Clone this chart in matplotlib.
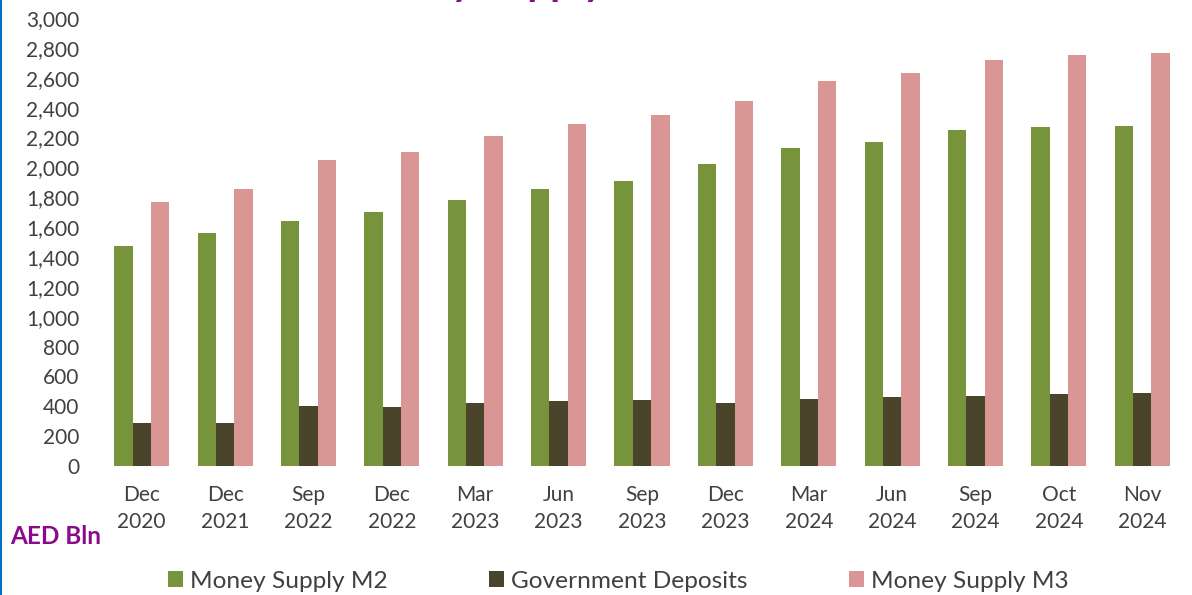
import matplotlib
matplotlib.use("Agg")
import matplotlib.pyplot as plt
import numpy as np
from matplotlib.lines import Line2D
from matplotlib.patches import Patch

plt.rcParams['font.family'] = ['Lato', 'DejaVu Sans']

categories = ["Dec\n2020", "Dec\n2021", "Sep\n2022", "Dec\n2022", "Mar\n2023", "Jun\n2023",
              "Sep\n2023", "Dec\n2023", "Mar\n2024", "Jun\n2024", "Sep\n2024", "Oct\n2024", "Nov\n2024"]
m2 = [1476, 1559, 1642, 1700, 1783, 1857, 1909, 2023, 2132, 2168, 2250, 2268, 2277]
gov = [286, 289, 402, 398, 420, 438, 442, 420, 447, 462, 471, 483, 489]
m3 = [1765, 1852, 2050, 2105, 2210, 2293, 2351, 2442, 2581, 2630, 2717, 2755, 2767]
series_names = ["Money Supply M2", "Government Deposits", "Money Supply M3"]
colors = ["#77933C", "#4A452A", "#D99694"]
yticks = list(range(0, 3001, 200))

W, H = 1192, 595
fig = plt.figure(figsize=(W / 100, H / 100), dpi=100)
ax = fig.add_axes([100 / W, 1 - 466 / H, 1084 / W, 448 / H])

x = np.arange(len(categories))
bw = 0.22
for i, (vals, c) in enumerate(zip([m2, gov, m3], colors)):
    ax.bar(x + (i - 1) * bw, vals, width=bw, color=c, edgecolor='none')

ax.set_xlim(-0.5, len(categories) - 0.5)
ax.set_ylim(0, 3000)
ax.set_yticks(yticks)
ax.set_yticklabels([f"{v:,}" for v in yticks])
ax.set_xticks(x)
ax.set_xticklabels(categories, linespacing=1.4)
for s in ax.spines.values():
    s.set_visible(False)
ax.tick_params(axis='both', length=0, labelsize=15, colors='#404040')
ax.tick_params(axis='y', pad=15)
ax.tick_params(axis='x', pad=14)

# title (mostly clipped at top, as in the reference)
fig.text(346 / W, 1 + 5 / H, "Money Supply", fontsize=29, fontweight='bold',
         color='#8B0A8B', ha='left', va='baseline')

fig.text(10 / W, 1 - 537 / H, "AED Bln", fontsize=17.5, fontweight='bold',
         color='#8B0A8B', ha='left', va='center')

# legend entries placed in equal-width columns
starts = [168, 489, 849]
for name, c, sx in zip(series_names, colors, starts):
    h = Patch(facecolor=c, edgecolor='none')
    lg = fig.legend([h], [name], loc='center left', bbox_to_anchor=(sx / W, 1 - 581 / H),
                    frameon=False, fontsize=17.6, handlelength=0.62, handleheight=0.62,
                    handletextpad=0.3, borderpad=0, borderaxespad=0)
    for t in lg.get_texts():
        t.set_color('#404040')

# left border line
fig.add_artist(Line2D([0.8 / W, 0.8 / W], [0, 1], color='#0070C0', linewidth=1.5,
                      transform=fig.transFigure))

fig.savefig("out.png", dpi=100)
